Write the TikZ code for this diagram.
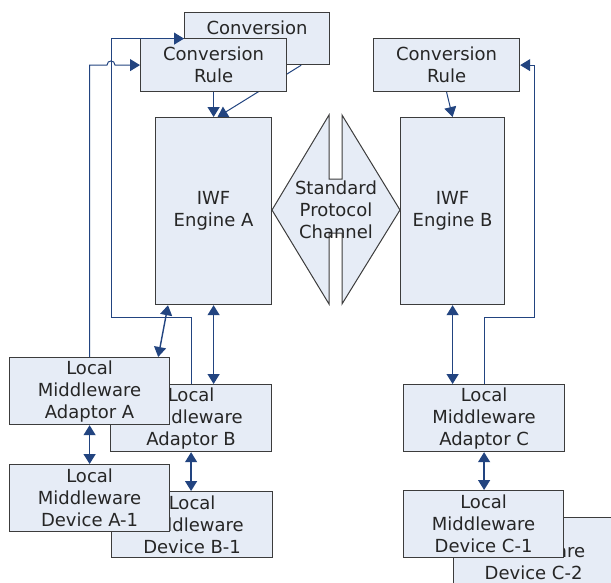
\documentclass[tikz,border=0pt]{standalone}
\usepackage{fontspec}
\setmainfont{DejaVu Sans}
\usetikzlibrary{arrows.meta,calc}
\definecolor{boxfill}{RGB}{230,236,246}
\definecolor{boxline}{RGB}{60,60,60}
\definecolor{link}{RGB}{34,68,128}
\tikzset{
  blk/.style={draw=boxline, fill=boxfill, line width=1.2pt, inner sep=0pt,
              anchor=north west, align=center, text=black!85,
              font=\fontsize{18}{22}\selectfont},
  tip/.tip={Triangle[length=10pt,width=12pt]},
  dbl/.style={draw=link, line width=1.4pt, {tip}-{tip}},
  one/.style={draw=link, line width=1.3pt, -{tip}},
  wire/.style={draw=link, line width=1pt},
}
\begin{document}
\begin{tikzpicture}[x=1pt,y=-1pt]
\useasboundingbox (0,0) rectangle (611,582);
\clip (0,0) rectangle (611,582);

% conversion rules on the A side (one stacked behind the other)
\node[blk, minimum width=145pt, minimum height=52pt] (crBack) at (184,12) {Conversion\\Rule};
\node[blk, minimum width=116pt, minimum height=187pt] (engA) at (155,117) {IWF\\Engine A};
\draw[one, line width=1pt] ($(crBack.south east)+(-29,0)$) -- ($(engA.north)+(4,0)$);
\node[blk, minimum width=146pt, minimum height=53pt] (crA) at (140,38) {Conversion\\Rule};
\node[blk, minimum width=146pt, minimum height=53pt] (crB) at (373,38) {Conversion\\Rule};

% interworking engine B
\node[blk, minimum width=104pt, minimum height=187pt] (engB) at (400,117) {IWF\\Engine B};

% standard protocol channel between the engines
\filldraw[fill=boxfill, draw=boxline, line width=1pt]
  (329,115) -- (329,179) -- (342,179) -- (342,115) -- (400,210) -- (342,304)
  -- (342,233) -- (329,233) -- (329,304) -- (272,210) -- cycle;
\node[align=center, text=black!85, font=\fontsize{18}{22}\selectfont] (spc) at (336,210)
  {Standard\\Protocol\\Channel};

% rule to engine links
\draw[one] (crA.south) -- (engA.north);
\draw[one, line width=1pt] (crB.south) -- (engB.north);

% adaptors and devices
\node[blk, minimum width=161pt, minimum height=67pt] (adB) at (110,384) {Local\\Middleware\\Adaptor B};
\node[blk, minimum width=160pt, minimum height=67pt] (adA) at (9,357) {Local\\Middleware\\Adaptor A};
\node[blk, minimum width=161pt, minimum height=67pt] (adC) at (403,384) {Local\\Middleware\\Adaptor C};
\node[blk, minimum width=161pt, minimum height=66pt] (devB) at (111,491) {Local\\Middleware\\Device B-1};
\node[blk, minimum width=160pt, minimum height=67pt] (devA) at (9,464) {Local\\Middleware\\Device A-1};
\node[blk, minimum width=160pt, minimum height=67pt] (devC2) at (453,517) {Local\\Middleware\\Device C-2};
\node[blk, minimum width=160pt, minimum height=67pt] (devC1) at (403,490) {Local\\Middleware\\Device C-1};

% bidirectional links
\draw[dbl] ($(engA.south west)+(13,0)$) -- ($(adA.north east)+(-12,0)$);
\draw[dbl] (engA.south) -- (engA.south |- adB.north);
\draw[dbl] (adA.south) -- (adA.south |- devA.north);
\draw[dbl] (adB.south) -- (adB.south |- devB.north);
\draw[dbl] (engB.south) -- (engB.south |- adC.north);
\draw[dbl] (adC.south) -- (adC.south |- devC1.north);

% feedback wires from adaptors to conversion rules
\coordinate (lc) at (111,317);
\coordinate (rc) at (534,317);
\draw[wire, -{tip}] (adB.north) |- (lc) |- (crBack.west);
\draw[wire, -{tip}] (adC.north) |- (rc) |- (crB.east);
\coordinate (hopL) at ($(lc |- crA.west)+(-4,0)$);
\coordinate (hopR) at ($(lc |- crA.west)+(4,0)$);
\draw[wire, -{tip}] (adA.north) -- (adA.north |- crA.west) -- (hopL)
  .. controls ($(hopL)+(0,-5.5)$) and ($(hopR)+(0,-5.5)$) .. (hopR) -- (crA.west);
\end{tikzpicture}
\end{document}
